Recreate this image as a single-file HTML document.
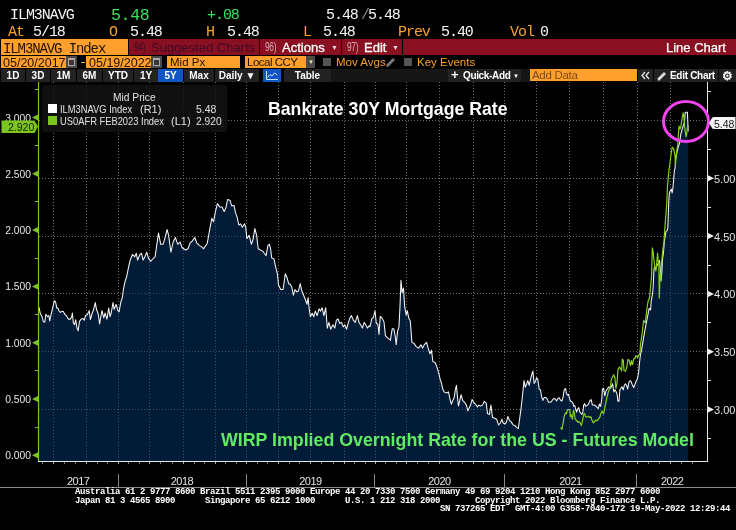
<!DOCTYPE html>
<html><head><meta charset="utf-8"><title>ILM3NAVG Index - Line Chart</title>
<style>
*{box-sizing:border-box}
html,body{margin:0;padding:0}
body{width:736px;height:530px;background:#000;overflow:hidden;position:relative;font-family:"Liberation Sans",sans-serif;color:#e8e8e8}
.a{position:absolute;white-space:pre;line-height:1}
.m{font-family:"Liberation Mono",monospace}
.t1{font-size:15px;letter-spacing:-1.05px}
.w{color:#f6f6f6}.o{color:#f9a12b}.g{color:#3ee05c}
.bx{position:absolute}
.or{background:#fea02b}
.rd{background:#891020}
.sx{transform-origin:0 0}
.btn{position:absolute;top:69px;height:13px;background:#222;color:#fff;font:bold 10px "Liberation Sans",sans-serif;text-align:center;line-height:14px}
.blu{background:#0f55c4}
.ft{font-family:"Liberation Mono",monospace;font-size:9px;letter-spacing:-0.4px;color:#ffffff;font-weight:bold;position:absolute;white-space:pre;line-height:1;left:75px}
.dt{font-size:12.5px;color:#201000}
.lb{font-size:11.5px}
.cal{position:absolute;top:56px;height:12px;background:#4a4a4a}
.cal i{position:absolute;left:2px;top:2px;width:7px;height:8px;border:1px solid #a8a8a8;border-top-width:2px;background:#383838}
.nm{font-size:12px;letter-spacing:-0.5px}
svg{position:absolute;left:0;top:0}
.al{font-size:10.3px;color:#e6e6e6;text-align:right}
.ar{font-size:11px;color:#e6e6e6}
.yl{font-size:11px;letter-spacing:-0.5px;color:#e6e6e6;width:30px;text-align:center}
.lg{font-size:11px;color:#e2e2e2;transform:scaleX(0.85);transform-origin:0 0}
</style></head><body>
<!-- ticker rows -->
<div class="a m t1 w" style="left:10px;top:8px">ILM3NAVG</div>
<div class="a m g" style="left:111px;top:7.5px;font-size:16.5px;letter-spacing:-0.3px">5.48</div>
<div class="a m t1 g" style="left:207px;top:8px">+.08</div>
<div class="a m t1 w" style="left:326px;top:8px">5.48</div>
<div class="a m t1" style="left:361px;top:8px;color:#888">/</div>
<div class="a m t1 w" style="left:368px;top:8px">5.48</div>

<div class="a m t1 o" style="left:8px;top:25px">At</div>
<div class="a m t1 w" style="left:33px;top:25px">5/18</div>
<div class="a m t1 o" style="left:109px;top:25px">O</div>
<div class="a m t1 w" style="left:130px;top:25px">5.48</div>
<div class="a m t1 o" style="left:206px;top:25px">H</div>
<div class="a m t1 w" style="left:227px;top:25px">5.48</div>
<div class="a m t1 o" style="left:303px;top:25px">L</div>
<div class="a m t1 w" style="left:323px;top:25px">5.48</div>
<div class="a m t1 o" style="left:398px;top:25px">Prev</div>
<div class="a m t1 w" style="left:441px;top:25px">5.40</div>
<div class="a m t1 o" style="left:510px;top:25px">Vol</div>
<div class="a m t1 w" style="left:540px;top:25px">0</div>

<!-- red / orange bar -->
<div class="bx or" style="left:1px;top:39px;width:127px;height:16px"></div>
<div class="a m" style="left:3px;top:41.5px;font-size:14px;letter-spacing:-1.1px;color:#201000">ILM3NAVG Index</div>
<div class="bx rd" style="left:129px;top:39px;width:130px;height:16px"></div>
<div class="a nm sx" style="left:134px;top:41px;color:#3e0a2c;transform:scaleX(0.7)">94)</div>
<div class="a" style="left:151px;top:41px;font-size:13px;color:#3e0a2c">Suggested Charts</div>
<div class="bx rd" style="left:260px;top:39px;width:81px;height:16px"></div>
<div class="a nm sx" style="left:265px;top:41px;color:#d0a8b4;transform:scaleX(0.7)">96)</div>
<div class="a" style="left:282px;top:41px;font-size:13px;color:#fff;-webkit-text-stroke:0.3px #fff">Actions</div>
<div class="a" style="left:331px;top:44px;font-size:7px;color:#ddd">&#9660;</div>
<div class="bx rd" style="left:342px;top:39px;width:60px;height:16px"></div>
<div class="a nm sx" style="left:347px;top:41px;color:#d0a8b4;transform:scaleX(0.7)">97)</div>
<div class="a" style="left:364px;top:41px;font-size:13px;color:#fff;-webkit-text-stroke:0.3px #fff">Edit</div>
<div class="a" style="left:392px;top:44px;font-size:7px;color:#ddd">&#9660;</div>
<div class="bx rd" style="left:403px;top:39px;width:333px;height:16px"></div>
<div class="a" style="left:666px;top:41px;font-size:13px;color:#fff;-webkit-text-stroke:0.25px #fff">Line Chart</div>

<!-- date row -->
<div class="bx or" style="left:1px;top:56px;width:65px;height:12px"></div>
<div class="a dt" style="left:3px;top:56.5px">05/20/2017</div>
<div class="cal" style="left:66px;width:11px"><i></i></div>
<div class="bx" style="left:81px;top:62px;width:4px;height:1px;background:#f9a12b"></div>
<div class="bx or" style="left:86px;top:56px;width:65px;height:12px"></div>
<div class="a dt" style="left:89px;top:56.5px">05/19/2022</div>
<div class="cal" style="left:151px;width:11px"><i></i></div>
<div class="bx or" style="left:167px;top:56px;width:73px;height:12px"></div>
<div class="a lb" style="left:170px;top:57px;color:#201000">Mid Px</div>
<div class="bx or" style="left:245px;top:56px;width:61px;height:12px"></div>
<div class="a lb" style="left:247px;top:57px;color:#201000;letter-spacing:-0.5px">Local CCY</div>
<div class="bx" style="left:306px;top:56px;width:9px;height:12px;background:#4a4a4a"></div>
<div class="a" style="left:308px;top:59px;font-size:6px;color:#ddd">&#9660;</div>
<div class="bx" style="left:323px;top:58px;width:8px;height:8px;background:#555"></div>
<div class="a lb" style="left:336px;top:57px;color:#f9a12b">Mov Avgs</div>
<svg style="left:385px;top:57px" width="12" height="11" viewBox="0 0 12 11"><path d="M2,10 L1,8 L8,1 L10,3 L3,10 Z" fill="#777"/></svg>
<div class="bx" style="left:404px;top:58px;width:8px;height:8px;background:#555"></div>
<div class="a lb" style="left:417px;top:57px;color:#f9a12b">Key Events</div>

<!-- button bar -->
<div class="btn" style="left:1px;width:24px">1D</div>
<div class="btn" style="left:26px;width:24px">3D</div>
<div class="btn" style="left:51px;width:25px">1M</div>
<div class="btn" style="left:77px;width:25px">6M</div>
<div class="btn" style="left:103px;width:30px">YTD</div>
<div class="btn" style="left:134px;width:24px">1Y</div>
<div class="btn blu" style="left:158px;width:25px">5Y</div>
<div class="btn" style="left:184px;width:30px">Max</div>
<div class="btn" style="left:215px;width:44px">Daily &#9660;</div>
<div class="btn blu" style="left:263px;width:18px"><svg style="left:3px;top:2px" width="12" height="9" viewBox="0 0 12 9"><path d="M0.5,0 V8.5 H12 M1.5,6.5 L4,3.5 L6,5 L8.5,2 L11,4" fill="none" stroke="#cfe0ff" stroke-width="1"/></svg></div>
<div class="btn" style="left:284px;width:47px">Table</div>
<div class="bx" style="left:331px;top:69px;width:117px;height:13px;background:#161616"></div>
<div class="btn" style="left:448px;width:73px;text-align:left"><span style="position:absolute;left:3px;top:-1px;font-size:13px">+</span><span style="position:absolute;left:15px;letter-spacing:-0.35px">Quick-Add</span><span style="position:absolute;left:65px;font-size:6px;top:0px">&#9660;</span></div>
<div class="bx" style="left:521px;top:69px;width:9px;height:13px;background:#161616"></div>
<div class="bx or" style="left:530px;top:69px;width:107px;height:12px"></div>
<div class="a lb" style="left:532px;top:70px;color:#7e4c12;letter-spacing:-0.3px">Add Data</div>
<div class="btn" style="left:638px;width:15px"><svg style="left:0;top:0" width="15" height="13" viewBox="0 0 15 13"><path d="M7,3 L4,6.5 L7,10 M11,3 L8,6.5 L11,10" fill="none" stroke="#e0e0e0" stroke-width="1.4"/></svg></div>
<div class="btn" style="left:654px;width:64px"><svg style="left:3px;top:2px" width="10" height="10" viewBox="0 0 10 10"><path d="M1,9.5 L0.5,7.5 L7,1 L9,3 L2.5,9.5 Z" fill="#ddd"/></svg><span style="position:absolute;left:16px;letter-spacing:-0.3px">Edit Chart</span></div>
<div class="btn" style="left:719px;width:17px;font-size:12px">&#9881;</div>

<svg width="736" height="530" viewBox="0 0 736 530">
 <g stroke="#6c6c6c" stroke-width="1" stroke-dasharray="1 2" fill="none">
<line x1="53.5" y1="82" x2="53.5" y2="461"/>
<line x1="86.5" y1="82" x2="86.5" y2="461"/>
<line x1="118.5" y1="82" x2="118.5" y2="461"/>
<line x1="149.5" y1="82" x2="149.5" y2="461"/>
<line x1="183.5" y1="82" x2="183.5" y2="461"/>
<line x1="215.5" y1="82" x2="215.5" y2="461"/>
<line x1="246.5" y1="82" x2="246.5" y2="461"/>
<line x1="278.5" y1="82" x2="278.5" y2="461"/>
<line x1="310.5" y1="82" x2="310.5" y2="461"/>
<line x1="344.5" y1="82" x2="344.5" y2="461"/>
<line x1="375.5" y1="82" x2="375.5" y2="461"/>
<line x1="406.5" y1="82" x2="406.5" y2="461"/>
<line x1="439.5" y1="82" x2="439.5" y2="461"/>
<line x1="473.5" y1="82" x2="473.5" y2="461"/>
<line x1="504.5" y1="82" x2="504.5" y2="461"/>
<line x1="536.5" y1="82" x2="536.5" y2="461"/>
<line x1="569.5" y1="82" x2="569.5" y2="461"/>
<line x1="603.5" y1="82" x2="603.5" y2="461"/>
<line x1="637.5" y1="82" x2="637.5" y2="461"/>
<line x1="670.5" y1="82" x2="670.5" y2="461"/>
<line x1="39" y1="120.5" x2="707" y2="120.5"/>
<line x1="39" y1="178.5" x2="707" y2="178.5"/>
<line x1="39" y1="236.5" x2="707" y2="236.5"/>
<line x1="39" y1="293.5" x2="707" y2="293.5"/>
<line x1="39" y1="351.5" x2="707" y2="351.5"/>
<line x1="39" y1="409.5" x2="707" y2="409.5"/>
 </g>
 <path d="M38.9,461 L38.5,307.5 L39.1,307.5 L40.3,313.6 L42.1,316.7 L43.3,321.6 L44.8,322.2 L45.8,314.2 L47.6,316.7 L48.8,315.5 L49.7,321 L50.7,316 L52.5,308.7 L54.3,300.8 L55.6,302 L56.8,308.1 L58,308.1 L59.2,311.2 L60.4,312.4 L62.3,311.2 L63.5,311.8 L64.7,314.2 L66.6,316 L68.4,319.1 L70.2,319.1 L71.5,317.3 L72.4,313 L73.3,322.8 L74.5,324.6 L75.7,319.7 L77,328.3 L78.2,330.7 L79.4,321.6 L81.2,319.1 L83.1,318.5 L84.3,320.3 L85.5,315.5 L87.3,314.8 L89.2,310.6 L90.4,319.7 L92.2,313 L93.5,310 L95.3,302.6 L96.5,309.3 L98.3,314.2 L99.6,324 L100.8,316.7 L102,310.6 L103.8,317.9 L105.1,313 L106.9,319.1 L108.7,308.1 L110,316.7 L111.2,313 L113,302.6 L114.2,309.3 L116.1,304.4 L117.9,310.6 L119.1,311.8 L120.4,304.4 L121.1,300.9 L122.2,298.3 L123.4,289.5 L125,281.6 L126.8,276 L128.6,266.9 L130.2,260.1 L132.4,254.5 L134.7,256.7 L136.3,253.3 L137.6,260.1 L139.9,254.5 L141.5,253.3 L143.1,260.1 L144.9,256.7 L146.7,252.2 L148.3,257.9 L150.5,261.3 L152.8,259 L155.1,256.7 L156.7,245.4 L158.5,233 L160.7,244.3 L163,244.3 L164.8,238.6 L167.1,229.6 L168.6,235.2 L170.9,252.2 L173.2,242 L175.4,237.5 L177.7,244.3 L180,242 L182.2,247.7 L185.6,250 L187.9,248.8 L190.1,243.2 L192.4,240.9 L194.7,237.5 L196.9,243.2 L199.2,245.4 L201.4,246.6 L203.7,248.8 L205,246.6 L207.3,243.2 L209.5,230.7 L211.8,218.3 L213.6,221.7 L215.2,212.6 L217.4,203.6 L219.7,207 L222,207 L224.2,211.5 L225.8,208.1 L227.6,199.5 L229.9,200.2 L231.7,205.8 L234,205.4 L235.5,212.6 L237.1,217.1 L238.9,225.1 L240.7,223.9 L242.3,227.3 L244.6,223.9 L245.7,227.3 L246.9,238.6 L249.1,235.2 L251.4,244.3 L253,239.8 L254.8,228.5 L256.6,235.2 L258.2,248.8 L260.4,250 L262.7,251.1 L264.3,253.3 L266.1,255.6 L267.9,245.4 L269.5,244.3 L270.6,248.8 L271.7,257.9 L274,259 L275.6,266.9 L277.4,273.7 L278.5,285 L280.8,289.5 L283.1,289.5 L285.3,273.7 L286.9,277.1 L288.7,283.9 L290,283.9 L291.8,287.3 L293.4,295.2 L295,289.6 L296.8,291.9 L298.6,290.7 L300.2,283.5 L301.8,290.7 L303.6,295.2 L305.4,299.8 L307,304.3 L308.1,297.5 L309.2,308.8 L310.4,316.7 L312.2,313.3 L313.8,316.7 L315.3,311.1 L317.1,315.6 L319,308.8 L320.5,311.1 L322.1,307.7 L323.9,315.6 L325.7,307.7 L327.3,328.1 L328.9,322.4 L330.7,329.2 L333,324.7 L334.8,328.1 L336.4,320.1 L338,319 L339.8,323.5 L341.6,322.4 L343.2,326.9 L344.8,324.7 L346.6,329.2 L348.4,322.4 L350,317.9 L351.5,315.6 L353.3,320.1 L355.2,322.4 L357.4,315.6 L359,322.4 L360.6,324.7 L362.4,328.1 L364.2,322.4 L365.8,324.7 L367.4,328.1 L369.2,325.8 L370,326.6 L371.8,318.6 L373.4,317.5 L375,310.7 L376.3,323.2 L377.9,324.3 L379,334.5 L380.2,316.4 L382.4,318.6 L384,322 L385.4,335.6 L387.6,337.9 L390.4,340.1 L392.2,328.8 L393.8,328.8 L395.3,336.7 L396.2,344.7 L397.6,331.1 L399,326.6 L400.1,303.9 L401,280.2 L402.1,292.6 L403.5,288.1 L404.6,306.2 L406.2,315.2 L407.3,310.7 L408.9,318.6 L410.3,320.9 L411.9,342.4 L414.1,343.5 L416.4,346.9 L418.6,348.1 L420.9,344.7 L422.5,348.1 L424.3,344.7 L426.6,342.4 L428.4,349.2 L430,353.7 L431.5,350.3 L432.9,361.6 L435.2,362.8 L436.7,366.2 L439,374.1 L440,378.7 L441.5,383.4 L442.8,389.1 L444.2,391.9 L445.7,392.8 L447.2,392.8 L448.5,391.9 L449.8,398.5 L451.3,404.2 L452.8,400.4 L454.2,397.5 L455.1,390.9 L456.4,385.3 L457.4,396.6 L458.5,406 L459.8,400.4 L461.1,394.7 L462.6,400.4 L464.5,402.3 L466.4,405.1 L467.9,410.8 L469.2,407.9 L470.6,405.1 L472.1,399.4 L473.6,402.3 L475.5,404.2 L477.4,407 L478.7,405.1 L480.6,406 L482.5,405.1 L484.3,401.3 L486.2,403.2 L487.5,413.6 L489.4,414.5 L490.9,405.1 L492.5,417.4 L494.7,418.3 L496.6,419.2 L498.5,424.9 L500.4,423 L501.9,419.2 L503.2,423 L505.1,424 L506.4,422.1 L507.9,416.4 L509.4,420.2 L511.3,422.1 L513.2,424.9 L515.1,425.8 L517,427.7 L518.3,428.7 L519.6,419.2 L521.1,407.9 L522.6,394.7 L524,380.6 L525.3,387.2 L526.5,384.3 L527.8,380.6 L529.2,385.3 L530.7,378.7 L532.2,373 L532.9,371.1 L534.1,383.4 L535.4,381.5 L536.7,377.7 L537.8,379.6 L539.2,389.1 L540.5,390 L541.6,396.6 L542.9,400.4 L544.2,397.5 L545.8,397.5 L547.3,399.4 L548.6,402.3 L550,402.3 L551.3,401.7 L552.6,399.7 L554,398.4 L555.3,399 L556.6,401 L557.9,398.4 L559.2,397.7 L560.6,400.3 L561.9,401 L563.2,396.4 L564.2,389.8 L565.6,388.5 L566.5,393.7 L567.4,395.1 L568.5,394.4 L569.5,398.4 L570.4,401 L571.8,401.7 L573.1,403.6 L573.7,406.3 L574.8,405.6 L575.7,409.6 L576.6,412.2 L577.7,408.9 L578.8,407.6 L579.7,411.6 L580.6,412.9 L581.7,414.2 L582.7,413.5 L583.6,405.6 L584.6,403.6 L585.6,406.3 L586.9,405.6 L588.3,404.3 L589.3,402.3 L590.2,400.3 L591.2,399.7 L592.3,404.9 L593.8,404.9 L595.3,405.6 L596.8,407.1 L598.3,408.6 L599.4,404.1 L600.6,406.4 L601.8,398.8 L602.4,389 L603.6,388.3 L604.8,395.8 L605.8,391.3 L607.3,389 L608.9,386.8 L610.4,388.3 L611.4,386.8 L612.6,383.7 L613.8,392 L614.9,389.8 L615.9,391.3 L617.1,394.3 L617.9,401.1 L619,401.1 L619.9,389.8 L620.9,388.3 L622,386.8 L623.2,389.8 L624.4,385.2 L625.4,383.7 L626.5,385.2 L627.7,389 L628.9,382.2 L630,380.7 L631,381.5 L632.2,384.5 L633.7,387.5 L634.9,384.5 L636,381.5 L637.5,378.5 L638.6,372.4 L639.5,362.6 L640.5,354.3 L641.6,349.8 L643.6,337.6 L645.3,327.8 L647.3,318 L649.2,308.2 L650.6,310 L651.2,300.8 L652.5,294.2 L653.2,286.2 L653.9,270.4 L654.5,267.1 L655.9,267.7 L657.2,265.1 L658.5,263.1 L659.6,260.5 L660.5,271.7 L661.1,281 L661.8,273 L662.5,259.8 L663.5,251.9 L664.4,241.3 L665.2,236 L666,231.4 L667.2,230.6 L667.8,228.3 L668.3,214.8 L668.7,202.7 L669.4,192.9 L670.3,190.6 L671.3,189.1 L672.1,192.9 L672.8,189.1 L673.6,180.1 L674.3,171 L675.1,168 L675.5,160.5 L676.9,152.6 L678.2,147.3 L679.5,143.3 L680.8,134.1 L682.2,128.8 L682.6,127.6 L683.5,124.8 L684.4,122.2 L685.2,112.5 L685.7,112.3 L687.4,112.3 L687.8,122 L688.2,131.4 L688.2,461 Z" fill="#043870" fill-opacity="0.5" stroke="none"/>
 <path d="M38.5,307.5 L39.1,307.5 L40.3,313.6 L42.1,316.7 L43.3,321.6 L44.8,322.2 L45.8,314.2 L47.6,316.7 L48.8,315.5 L49.7,321 L50.7,316 L52.5,308.7 L54.3,300.8 L55.6,302 L56.8,308.1 L58,308.1 L59.2,311.2 L60.4,312.4 L62.3,311.2 L63.5,311.8 L64.7,314.2 L66.6,316 L68.4,319.1 L70.2,319.1 L71.5,317.3 L72.4,313 L73.3,322.8 L74.5,324.6 L75.7,319.7 L77,328.3 L78.2,330.7 L79.4,321.6 L81.2,319.1 L83.1,318.5 L84.3,320.3 L85.5,315.5 L87.3,314.8 L89.2,310.6 L90.4,319.7 L92.2,313 L93.5,310 L95.3,302.6 L96.5,309.3 L98.3,314.2 L99.6,324 L100.8,316.7 L102,310.6 L103.8,317.9 L105.1,313 L106.9,319.1 L108.7,308.1 L110,316.7 L111.2,313 L113,302.6 L114.2,309.3 L116.1,304.4 L117.9,310.6 L119.1,311.8 L120.4,304.4 L121.1,300.9 L122.2,298.3 L123.4,289.5 L125,281.6 L126.8,276 L128.6,266.9 L130.2,260.1 L132.4,254.5 L134.7,256.7 L136.3,253.3 L137.6,260.1 L139.9,254.5 L141.5,253.3 L143.1,260.1 L144.9,256.7 L146.7,252.2 L148.3,257.9 L150.5,261.3 L152.8,259 L155.1,256.7 L156.7,245.4 L158.5,233 L160.7,244.3 L163,244.3 L164.8,238.6 L167.1,229.6 L168.6,235.2 L170.9,252.2 L173.2,242 L175.4,237.5 L177.7,244.3 L180,242 L182.2,247.7 L185.6,250 L187.9,248.8 L190.1,243.2 L192.4,240.9 L194.7,237.5 L196.9,243.2 L199.2,245.4 L201.4,246.6 L203.7,248.8 L205,246.6 L207.3,243.2 L209.5,230.7 L211.8,218.3 L213.6,221.7 L215.2,212.6 L217.4,203.6 L219.7,207 L222,207 L224.2,211.5 L225.8,208.1 L227.6,199.5 L229.9,200.2 L231.7,205.8 L234,205.4 L235.5,212.6 L237.1,217.1 L238.9,225.1 L240.7,223.9 L242.3,227.3 L244.6,223.9 L245.7,227.3 L246.9,238.6 L249.1,235.2 L251.4,244.3 L253,239.8 L254.8,228.5 L256.6,235.2 L258.2,248.8 L260.4,250 L262.7,251.1 L264.3,253.3 L266.1,255.6 L267.9,245.4 L269.5,244.3 L270.6,248.8 L271.7,257.9 L274,259 L275.6,266.9 L277.4,273.7 L278.5,285 L280.8,289.5 L283.1,289.5 L285.3,273.7 L286.9,277.1 L288.7,283.9 L290,283.9 L291.8,287.3 L293.4,295.2 L295,289.6 L296.8,291.9 L298.6,290.7 L300.2,283.5 L301.8,290.7 L303.6,295.2 L305.4,299.8 L307,304.3 L308.1,297.5 L309.2,308.8 L310.4,316.7 L312.2,313.3 L313.8,316.7 L315.3,311.1 L317.1,315.6 L319,308.8 L320.5,311.1 L322.1,307.7 L323.9,315.6 L325.7,307.7 L327.3,328.1 L328.9,322.4 L330.7,329.2 L333,324.7 L334.8,328.1 L336.4,320.1 L338,319 L339.8,323.5 L341.6,322.4 L343.2,326.9 L344.8,324.7 L346.6,329.2 L348.4,322.4 L350,317.9 L351.5,315.6 L353.3,320.1 L355.2,322.4 L357.4,315.6 L359,322.4 L360.6,324.7 L362.4,328.1 L364.2,322.4 L365.8,324.7 L367.4,328.1 L369.2,325.8 L370,326.6 L371.8,318.6 L373.4,317.5 L375,310.7 L376.3,323.2 L377.9,324.3 L379,334.5 L380.2,316.4 L382.4,318.6 L384,322 L385.4,335.6 L387.6,337.9 L390.4,340.1 L392.2,328.8 L393.8,328.8 L395.3,336.7 L396.2,344.7 L397.6,331.1 L399,326.6 L400.1,303.9 L401,280.2 L402.1,292.6 L403.5,288.1 L404.6,306.2 L406.2,315.2 L407.3,310.7 L408.9,318.6 L410.3,320.9 L411.9,342.4 L414.1,343.5 L416.4,346.9 L418.6,348.1 L420.9,344.7 L422.5,348.1 L424.3,344.7 L426.6,342.4 L428.4,349.2 L430,353.7 L431.5,350.3 L432.9,361.6 L435.2,362.8 L436.7,366.2 L439,374.1 L440,378.7 L441.5,383.4 L442.8,389.1 L444.2,391.9 L445.7,392.8 L447.2,392.8 L448.5,391.9 L449.8,398.5 L451.3,404.2 L452.8,400.4 L454.2,397.5 L455.1,390.9 L456.4,385.3 L457.4,396.6 L458.5,406 L459.8,400.4 L461.1,394.7 L462.6,400.4 L464.5,402.3 L466.4,405.1 L467.9,410.8 L469.2,407.9 L470.6,405.1 L472.1,399.4 L473.6,402.3 L475.5,404.2 L477.4,407 L478.7,405.1 L480.6,406 L482.5,405.1 L484.3,401.3 L486.2,403.2 L487.5,413.6 L489.4,414.5 L490.9,405.1 L492.5,417.4 L494.7,418.3 L496.6,419.2 L498.5,424.9 L500.4,423 L501.9,419.2 L503.2,423 L505.1,424 L506.4,422.1 L507.9,416.4 L509.4,420.2 L511.3,422.1 L513.2,424.9 L515.1,425.8 L517,427.7 L518.3,428.7 L519.6,419.2 L521.1,407.9 L522.6,394.7 L524,380.6 L525.3,387.2 L526.5,384.3 L527.8,380.6 L529.2,385.3 L530.7,378.7 L532.2,373 L532.9,371.1 L534.1,383.4 L535.4,381.5 L536.7,377.7 L537.8,379.6 L539.2,389.1 L540.5,390 L541.6,396.6 L542.9,400.4 L544.2,397.5 L545.8,397.5 L547.3,399.4 L548.6,402.3 L550,402.3 L551.3,401.7 L552.6,399.7 L554,398.4 L555.3,399 L556.6,401 L557.9,398.4 L559.2,397.7 L560.6,400.3 L561.9,401 L563.2,396.4 L564.2,389.8 L565.6,388.5 L566.5,393.7 L567.4,395.1 L568.5,394.4 L569.5,398.4 L570.4,401 L571.8,401.7 L573.1,403.6 L573.7,406.3 L574.8,405.6 L575.7,409.6 L576.6,412.2 L577.7,408.9 L578.8,407.6 L579.7,411.6 L580.6,412.9 L581.7,414.2 L582.7,413.5 L583.6,405.6 L584.6,403.6 L585.6,406.3 L586.9,405.6 L588.3,404.3 L589.3,402.3 L590.2,400.3 L591.2,399.7 L592.3,404.9 L593.8,404.9 L595.3,405.6 L596.8,407.1 L598.3,408.6 L599.4,404.1 L600.6,406.4 L601.8,398.8 L602.4,389 L603.6,388.3 L604.8,395.8 L605.8,391.3 L607.3,389 L608.9,386.8 L610.4,388.3 L611.4,386.8 L612.6,383.7 L613.8,392 L614.9,389.8 L615.9,391.3 L617.1,394.3 L617.9,401.1 L619,401.1 L619.9,389.8 L620.9,388.3 L622,386.8 L623.2,389.8 L624.4,385.2 L625.4,383.7 L626.5,385.2 L627.7,389 L628.9,382.2 L630,380.7 L631,381.5 L632.2,384.5 L633.7,387.5 L634.9,384.5 L636,381.5 L637.5,378.5 L638.6,372.4 L639.5,362.6 L640.5,354.3 L641.6,349.8 L643.6,337.6 L645.3,327.8 L647.3,318 L649.2,308.2 L650.6,310 L651.2,300.8 L652.5,294.2 L653.2,286.2 L653.9,270.4 L654.5,267.1 L655.9,267.7 L657.2,265.1 L658.5,263.1 L659.6,260.5 L660.5,271.7 L661.1,281 L661.8,273 L662.5,259.8 L663.5,251.9 L664.4,241.3 L665.2,236 L666,231.4 L667.2,230.6 L667.8,228.3 L668.3,214.8 L668.7,202.7 L669.4,192.9 L670.3,190.6 L671.3,189.1 L672.1,192.9 L672.8,189.1 L673.6,180.1 L674.3,171 L675.1,168 L675.5,160.5 L676.9,152.6 L678.2,147.3 L679.5,143.3 L680.8,134.1 L682.2,128.8 L682.6,127.6 L683.5,124.8 L684.4,122.2 L685.2,112.5 L685.7,112.3 L687.4,112.3 L687.8,122 L688.2,131.4" fill="none" stroke="#f6f6f6" stroke-width="1.05" stroke-linejoin="round"/>
 <path d="M560.6,427.4 L561.9,429.4 L563.2,422.8 L564.2,416.2 L565.6,412.9 L566.5,413.5 L567.4,409.6 L568.7,409.6 L569.8,409.6 L570.4,416.8 L571.4,414.9 L572.4,419.5 L573.5,410.2 L574.4,413.5 L575.3,419.5 L576.4,420.1 L577.7,422.1 L579,421.5 L580.1,422.8 L581.4,425.4 L582.3,422.1 L583.6,414.9 L584.6,413.5 L585.6,416.8 L586.9,416.8 L588.3,416.2 L589.6,417.5 L590.9,416.8 L592.2,420.8 L593.5,422.8 L594.6,421.5 L595.5,420.1 L596.8,420.8 L598.2,419.5 L600,416.8 L600.6,413.9 L602.1,410.9 L603.6,413.9 L605.1,406.4 L606.6,398.8 L608.1,392.8 L609.3,389 L610.4,386.8 L611.4,379.2 L612.6,377 L613.8,374.7 L614.9,377.7 L615.9,388.3 L617.1,382.2 L618,369.4 L619.5,367.1 L620.6,368.6 L621.6,370.9 L622.3,359.2 L623.3,360.3 L624,370.5 L625.5,371.2 L626.9,366.7 L627.8,359.5 L629,359.9 L630.5,365.6 L631.4,360.7 L632.5,364.5 L633.8,358.8 L635.2,358.4 L635.7,355.8 L636.9,356.2 L637.6,357.7 L638.6,355.4 L639.9,353.5 L640.5,344.5 L641.9,335.2 L643.6,320.5 L645.3,322.9 L647.3,306 L648.2,300.8 L649.5,298.1 L650.6,286.2 L651.6,275.7 L652.3,247.9 L653.2,251.9 L653.9,259.8 L654.8,266.4 L655.9,271 L656.9,261.1 L657.6,253.2 L658.2,261.1 L658.8,262.5 L659.3,298.1 L660.1,274.3 L660.9,279.6 L661.4,266.4 L662.2,255.9 L663.1,247.9 L664,241.3 L665.3,222.3 L666.8,202.7 L667.5,186.1 L668.3,177.1 L669,169.5 L669.6,165.8 L670.9,155.2 L672.2,147.3 L673.6,148.6 L674.9,155.2 L675.5,164.4 L676.2,155.2 L676.9,149.9 L677.8,144.6 L678.6,131.4 L679.1,126.1 L679.9,128.8 L680.8,127.5 L681.5,122.2 L682.6,115.6 L683.1,112.9 L683.9,116.9 L684.4,124.8 L685.2,131.4 L686.1,136.7 L687,131.4 L687.8,124.8 L688.4,127" fill="none" stroke="#86d21c" stroke-width="1.2" stroke-linejoin="round"/>
 <!-- axes -->
 <line x1="38.5" y1="82" x2="38.5" y2="462" stroke="#7cc51e" stroke-width="1.2"/>
 <line x1="707.5" y1="82" x2="707.5" y2="462" stroke="#e8e8e8" stroke-width="1"/>
 <line x1="38" y1="461.5" x2="708" y2="461.5" stroke="#e8e8e8" stroke-width="1"/>
 <g stroke-width="1">
<line x1="42.5" y1="462" x2="42.5" y2="464" stroke="#7a7a7a"/>
<line x1="53.5" y1="462" x2="53.5" y2="464" stroke="#b0b0b0"/>
<line x1="64.5" y1="462" x2="64.5" y2="464" stroke="#7a7a7a"/>
<line x1="75.5" y1="462" x2="75.5" y2="464" stroke="#7a7a7a"/>
<line x1="86.5" y1="462" x2="86.5" y2="464" stroke="#b0b0b0"/>
<line x1="97.5" y1="462" x2="97.5" y2="464" stroke="#7a7a7a"/>
<line x1="107.5" y1="462" x2="107.5" y2="464" stroke="#7a7a7a"/>
<line x1="118.5" y1="462" x2="118.5" y2="464" stroke="#b0b0b0"/>
<line x1="128.5" y1="462" x2="128.5" y2="464" stroke="#7a7a7a"/>
<line x1="139.5" y1="462" x2="139.5" y2="464" stroke="#7a7a7a"/>
<line x1="149.5" y1="462" x2="149.5" y2="464" stroke="#b0b0b0"/>
<line x1="160.5" y1="462" x2="160.5" y2="464" stroke="#7a7a7a"/>
<line x1="172.5" y1="462" x2="172.5" y2="464" stroke="#7a7a7a"/>
<line x1="183.5" y1="462" x2="183.5" y2="464" stroke="#b0b0b0"/>
<line x1="194.5" y1="462" x2="194.5" y2="464" stroke="#7a7a7a"/>
<line x1="204.5" y1="462" x2="204.5" y2="464" stroke="#7a7a7a"/>
<line x1="215.5" y1="462" x2="215.5" y2="464" stroke="#b0b0b0"/>
<line x1="225.5" y1="462" x2="225.5" y2="464" stroke="#7a7a7a"/>
<line x1="236.5" y1="462" x2="236.5" y2="464" stroke="#7a7a7a"/>
<line x1="246.5" y1="462" x2="246.5" y2="464" stroke="#b0b0b0"/>
<line x1="257.5" y1="462" x2="257.5" y2="464" stroke="#7a7a7a"/>
<line x1="267.5" y1="462" x2="267.5" y2="464" stroke="#7a7a7a"/>
<line x1="278.5" y1="462" x2="278.5" y2="464" stroke="#b0b0b0"/>
<line x1="289.5" y1="462" x2="289.5" y2="464" stroke="#7a7a7a"/>
<line x1="299.5" y1="462" x2="299.5" y2="464" stroke="#7a7a7a"/>
<line x1="310.5" y1="462" x2="310.5" y2="464" stroke="#b0b0b0"/>
<line x1="321.5" y1="462" x2="321.5" y2="464" stroke="#7a7a7a"/>
<line x1="333.5" y1="462" x2="333.5" y2="464" stroke="#7a7a7a"/>
<line x1="344.5" y1="462" x2="344.5" y2="464" stroke="#b0b0b0"/>
<line x1="354.5" y1="462" x2="354.5" y2="464" stroke="#7a7a7a"/>
<line x1="365.5" y1="462" x2="365.5" y2="464" stroke="#7a7a7a"/>
<line x1="375.5" y1="462" x2="375.5" y2="464" stroke="#b0b0b0"/>
<line x1="385.5" y1="462" x2="385.5" y2="464" stroke="#7a7a7a"/>
<line x1="396.5" y1="462" x2="396.5" y2="464" stroke="#7a7a7a"/>
<line x1="406.5" y1="462" x2="406.5" y2="464" stroke="#b0b0b0"/>
<line x1="417.5" y1="462" x2="417.5" y2="464" stroke="#7a7a7a"/>
<line x1="428.5" y1="462" x2="428.5" y2="464" stroke="#7a7a7a"/>
<line x1="439.5" y1="462" x2="439.5" y2="464" stroke="#b0b0b0"/>
<line x1="450.5" y1="462" x2="450.5" y2="464" stroke="#7a7a7a"/>
<line x1="462.5" y1="462" x2="462.5" y2="464" stroke="#7a7a7a"/>
<line x1="473.5" y1="462" x2="473.5" y2="464" stroke="#b0b0b0"/>
<line x1="483.5" y1="462" x2="483.5" y2="464" stroke="#7a7a7a"/>
<line x1="494.5" y1="462" x2="494.5" y2="464" stroke="#7a7a7a"/>
<line x1="504.5" y1="462" x2="504.5" y2="464" stroke="#b0b0b0"/>
<line x1="515.5" y1="462" x2="515.5" y2="464" stroke="#7a7a7a"/>
<line x1="525.5" y1="462" x2="525.5" y2="464" stroke="#7a7a7a"/>
<line x1="536.5" y1="462" x2="536.5" y2="464" stroke="#b0b0b0"/>
<line x1="547.5" y1="462" x2="547.5" y2="464" stroke="#7a7a7a"/>
<line x1="558.5" y1="462" x2="558.5" y2="464" stroke="#7a7a7a"/>
<line x1="569.5" y1="462" x2="569.5" y2="464" stroke="#b0b0b0"/>
<line x1="580.5" y1="462" x2="580.5" y2="464" stroke="#7a7a7a"/>
<line x1="592.5" y1="462" x2="592.5" y2="464" stroke="#7a7a7a"/>
<line x1="603.5" y1="462" x2="603.5" y2="464" stroke="#b0b0b0"/>
<line x1="614.5" y1="462" x2="614.5" y2="464" stroke="#7a7a7a"/>
<line x1="626.5" y1="462" x2="626.5" y2="464" stroke="#7a7a7a"/>
<line x1="637.5" y1="462" x2="637.5" y2="464" stroke="#b0b0b0"/>
<line x1="648.5" y1="462" x2="648.5" y2="464" stroke="#7a7a7a"/>
<line x1="659.5" y1="462" x2="659.5" y2="464" stroke="#7a7a7a"/>
<line x1="670.5" y1="462" x2="670.5" y2="464" stroke="#b0b0b0"/>
<line x1="681.5" y1="462" x2="681.5" y2="464" stroke="#7a7a7a"/>
<line x1="692.5" y1="462" x2="692.5" y2="464" stroke="#7a7a7a"/>
 </g>
 <ellipse cx="686" cy="121.5" rx="22.5" ry="20" fill="none" stroke="#f044f0" stroke-width="3"/>
 <g id="axisdeco">
<path d="M32,455.3 L38,452.3 L38,458.3 Z" fill="#7cc51e"/>
<path d="M32,399 L38,396 L38,402 Z" fill="#7cc51e"/>
<path d="M32,342.7 L38,339.7 L38,345.7 Z" fill="#7cc51e"/>
<path d="M32,286.4 L38,283.4 L38,289.4 Z" fill="#7cc51e"/>
<path d="M32,230.1 L38,227.1 L38,233.1 Z" fill="#7cc51e"/>
<path d="M32,173.8 L38,170.8 L38,176.8 Z" fill="#7cc51e"/>
<path d="M32,117.5 L38,114.5 L38,120.5 Z" fill="#7cc51e"/>
<line x1="35" y1="427.5" x2="38" y2="427.5" stroke="#7cc51e"/>
<line x1="35" y1="370.5" x2="38" y2="370.5" stroke="#7cc51e"/>
<line x1="35" y1="314.5" x2="38" y2="314.5" stroke="#7cc51e"/>
<line x1="35" y1="258.5" x2="38" y2="258.5" stroke="#7cc51e"/>
<line x1="35" y1="201.5" x2="38" y2="201.5" stroke="#7cc51e"/>
<line x1="35" y1="145.5" x2="38" y2="145.5" stroke="#7cc51e"/>
<line x1="35" y1="89.5" x2="38" y2="89.5" stroke="#7cc51e"/>
<path d="M714,409.5 L708,406.5 L708,412.5 Z" fill="#f0f0f0"/>
<path d="M714,351.7 L708,348.7 L708,354.7 Z" fill="#f0f0f0"/>
<path d="M714,293.9 L708,290.9 L708,296.9 Z" fill="#f0f0f0"/>
<path d="M714,236.1 L708,233.1 L708,239.1 Z" fill="#f0f0f0"/>
<path d="M714,178.3 L708,175.3 L708,181.3 Z" fill="#f0f0f0"/>
<line x1="708" y1="438.5" x2="711" y2="438.5" stroke="#e8e8e8"/>
<line x1="708" y1="380.5" x2="711" y2="380.5" stroke="#e8e8e8"/>
<line x1="708" y1="322.5" x2="711" y2="322.5" stroke="#e8e8e8"/>
<line x1="708" y1="265.5" x2="711" y2="265.5" stroke="#e8e8e8"/>
<line x1="708" y1="207.5" x2="711" y2="207.5" stroke="#e8e8e8"/>
<line x1="708" y1="149.5" x2="711" y2="149.5" stroke="#e8e8e8"/>
<line x1="708" y1="91.5" x2="711" y2="91.5" stroke="#e8e8e8"/>
<line x1="118.5" y1="474" x2="118.5" y2="487" stroke="#8a8a8a"/>
<line x1="246.5" y1="474" x2="246.5" y2="487" stroke="#8a8a8a"/>
<line x1="374.5" y1="474" x2="374.5" y2="487" stroke="#8a8a8a"/>
<line x1="504.5" y1="474" x2="504.5" y2="487" stroke="#8a8a8a"/>
<line x1="636.5" y1="474" x2="636.5" y2="487" stroke="#8a8a8a"/>
 </g>
</svg>
<div class="a al" style="right:705px;top:451.3px">0.000</div>
<div class="a al" style="right:705px;top:395px">0.500</div>
<div class="a al" style="right:705px;top:338.7px">1.000</div>
<div class="a al" style="right:705px;top:282.4px">1.500</div>
<div class="a al" style="right:705px;top:226.1px">2.000</div>
<div class="a al" style="right:705px;top:169.8px">2.500</div>
<div class="a al" style="right:705px;top:113.5px">3.000</div>
<div class="a ar" style="left:714px;top:405px">3.00</div>
<div class="a ar" style="left:714px;top:347.2px">3.50</div>
<div class="a ar" style="left:714px;top:289.4px">4.00</div>
<div class="a ar" style="left:714px;top:231.6px">4.50</div>
<div class="a ar" style="left:714px;top:173.8px">5.00</div>
<div class="a yl" style="left:63.2px;top:476px">2017</div>
<div class="a yl" style="left:167px;top:476px">2018</div>
<div class="a yl" style="left:295.5px;top:476px">2019</div>
<div class="a yl" style="left:424.5px;top:476px">2020</div>
<div class="a yl" style="left:555.5px;top:476px">2021</div>
<div class="a yl" style="left:657.2px;top:476px">2022</div>
<!-- legend -->
<div class="bx" style="left:42px;top:85px;width:185px;height:47px;background:rgba(19,19,19,0.84);border-radius:3px"></div>
<div class="a lg" style="left:113px;top:92px;transform:scaleX(0.93)">Mid Price</div>
<div class="bx" style="left:48px;top:104px;width:9px;height:9px;background:#fff"></div>
<div class="bx" style="left:48px;top:116px;width:9px;height:9px;background:#7cc51e"></div>
<div class="a lg" style="left:59.5px;top:104px">ILM3NAVG Index</div>
<div class="a lg" style="left:140px;top:104px;transform:none">(R1)</div>
<div class="a lg" style="left:196px;top:104px;transform:scaleX(0.95)">5.48</div>
<div class="a lg" style="left:59.5px;top:116px">US0AFR FEB2023 Index</div>
<div class="a lg" style="left:171px;top:116px;transform:none">(L1)</div>
<div class="a lg" style="left:196px;top:116px;transform:scaleX(0.93)">2.920</div>
<!-- title -->
<div class="a" style="left:268px;top:101px;font-size:17.7px;font-weight:bold;color:#fff">Bankrate 30Y Mortgage Rate</div>
<div class="a" style="left:221px;top:432px;font-size:17.8px;font-weight:bold;color:#60ec60">WIRP Implied Overnight Rate for the US - Futures Model</div>
<!-- value tags -->
<svg style="left:0;top:120px" width="40" height="14" viewBox="0 0 40 14"><path d="M1.5,0.5 H34.5 L38,6.5 L34.5,13 H1.5 Z" fill="#7cc51e"/></svg>
<div class="a" style="left:8px;top:122px;font-size:10.5px;color:#102000">2.920</div>
<svg style="left:708px;top:117px" width="28" height="12" viewBox="0 0 28 12"><path d="M1,6 L4,1 Q4.5,0 6,0 H27.5 V12 H6 Q4.5,12 4,11 Z" fill="#f4f4f4"/></svg>
<div class="a" style="left:714px;top:119px;font-size:10.5px;color:#181818">5.48</div>
<!-- footer -->
<div class="bx" style="left:0;top:487px;width:736px;height:1px;background:#8a8a8a"></div>
<div class="ft" style="top:488px">Australia 61 2 9777 8600 Brazil 5511 2395 9000 Europe 44 20 7330 7500 Germany 49 69 9204 1210 Hong Kong 852 2977 6000</div>
<div class="ft" style="top:496.7px">Japan 81 3 4565 8900      Singapore 65 6212 1000      U.S. 1 212 318 2000       Copyright 2022 Bloomberg Finance L.P.</div>
<div class="ft" style="top:505.4px">                                                                         SN 737265 EDT  GMT-4:00 G358-7040-172 19-May-2022 12:29:44</div>
</body></html>
